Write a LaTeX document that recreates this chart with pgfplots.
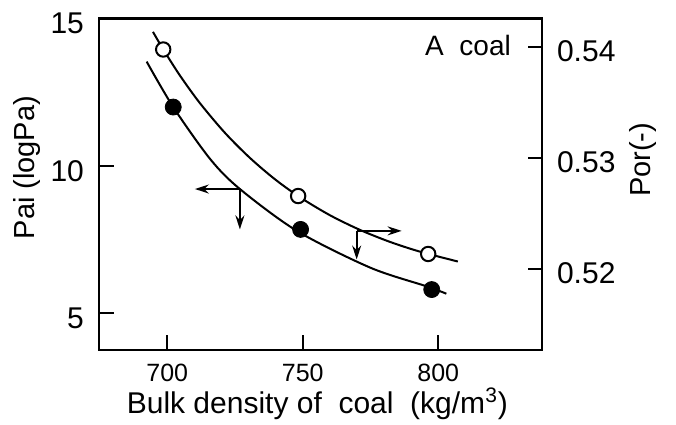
\documentclass[border=0pt]{standalone}
\usepackage{pgfplots}
\pgfplotsset{compat=1.18}
\usepackage{fontspec}
\setmainfont{Liberation Sans}
\usetikzlibrary{arrows.meta}
\begin{document}
\begin{tikzpicture}
\useasboundingbox (-49.5pt,-37pt) rectangle (288.5pt,175pt);
\begin{axis}[
  at={(0,0)}, anchor=south west,
  scale only axis, width=221.5pt, height=165.85pt,
  xmin=674.8, xmax=838.3, ymin=3.75, ymax=15,
  tick pos=left,
  xtick={700,750,800}, ytick={5,10,15},
  tick align=inside, major tick length=7.5pt,
  minor tick num=0,
  axis line style={line width=1.3pt},
  every tick/.style={line width=1.1pt, black},
  /pgf/number format/assume math mode=true,
  xticklabel style={font=\fontsize{12.5}{12.5}\selectfont, inner sep=0pt, yshift=-7pt},
  yticklabel style={font=\fontsize{15}{15}\selectfont, xshift=-4pt, yshift=-2.5pt},
  xlabel={Bulk density of\ \ coal\ \ (kg/m\textsuperscript{3})},
  xlabel style={font=\fontsize{15}{15}\selectfont, inner sep=0pt, at={(axis description cs:0.493,-0.19)}, anchor=base},
  ylabel={Pai (logPa)},
  ylabel style={font=\fontsize{14.5}{14.5}\selectfont, at={(axis description cs:-0.1625,0.55)}, anchor=center, rotate=0},
  clip=false,
]
\addplot[black, line width=1pt, smooth, tension=0.5] coordinates {
  (692.4,13.53) (702.2,11.99) (715.8,10.23) (726.8,9.21) (748,7.78) (775,6.54) (795.7,5.91) (803,5.66)
};
\addplot[only marks, mark=*, mark size=4pt, black] coordinates {
  (702.2,11.99) (749.2,7.84) (797.6,5.80)
};
\draw[line width=0.9pt, -{Stealth[length=7pt,width=4.5pt]}] (axis cs:726.8,9.21) -- (axis cs:710.2,9.21);
\draw[line width=0.9pt, -{Stealth[length=7pt,width=4.5pt]}] (axis cs:726.8,9.21) -- (axis cs:726.8,7.84);
\draw[line width=0.9pt, -{Stealth[length=7pt,width=4.5pt]}] (axis cs:769.9,7.79) -- (axis cs:786.5,7.79);
\draw[line width=0.9pt, -{Stealth[length=7pt,width=4.5pt]}] (axis cs:769.9,7.79) -- (axis cs:769.9,6.82);
\node[font=\fontsize{14}{14}\selectfont, anchor=center] at (axis cs:811,14.08) {A\ \ coal};
\end{axis}
\begin{axis}[
  at={(0,0)}, anchor=south west,
  scale only axis, width=221.5pt, height=165.85pt,
  xmin=674.8, xmax=838.3, ymin=0.51273, ymax=0.54261,
  axis y line*=right, axis x line=none,
  ytick={0.52,0.53,0.54},
  tick align=inside, major tick length=7pt,
  axis line style={line width=1.3pt},
  every tick/.style={line width=1.1pt, black},
  /pgf/number format/assume math mode=true,
  /pgf/number format/fixed, /pgf/number format/precision=2, /pgf/number format/fixed zerofill,
  yticklabel style={font=\fontsize{15}{15}\selectfont, xshift=4pt, yshift=-2pt},
  ylabel={Por(-)},
  ylabel style={font=\fontsize{14.5}{14.5}\selectfont, at={(axis description cs:1.229,0.573)}, anchor=center, rotate=0},
  clip=false,
]
\addplot[black, line width=1pt, smooth, tension=0.5] coordinates {
  (694.72,0.54139) (698.41,0.53985) (704.69,0.53745) (712.07,0.53496) (721.29,0.53229) (730.52,0.53003) (739.74,0.52811) (748.97,0.52649) (760.04,0.52487) (771.11,0.52355) (782.18,0.52247) (793.25,0.52159) (807.27,0.52070)
};
\addplot[only marks, mark=*, mark size=3.6pt, mark options={fill=white, draw=black, line width=1pt}] coordinates {
  (698.5,0.5398) (748.3,0.5266) (796.3,0.52138)
};
\end{axis}
\end{tikzpicture}
\end{document}
